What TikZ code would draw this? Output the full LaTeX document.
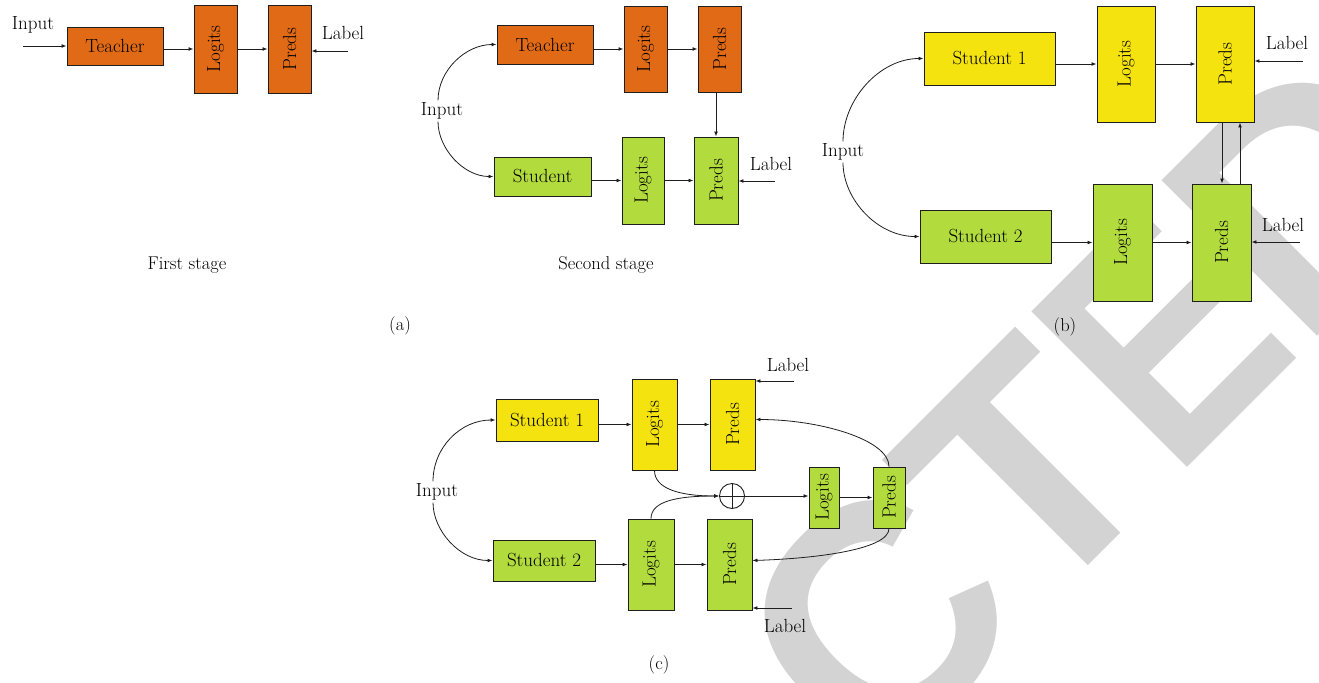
\documentclass[tikz,border=0pt]{standalone}
\usepackage{fontspec}
\usepackage{graphicx}
\newfontfamily\wmfont{Liberation Sans}
\usetikzlibrary{arrows.meta}
\definecolor{boxorange}{RGB}{224,106,22}
\definecolor{boxyellow}{RGB}{244,227,15}
\definecolor{boxgreen}{RGB}{178,219,62}
\definecolor{wmgrey}{RGB}{211,211,211}
\definecolor{ink}{RGB}{30,30,30}
\begin{document}
\begin{tikzpicture}[x=1bp, y=-1bp,
  box/.style={draw=ink, line width=0.9bp, inner sep=0pt, text=black,
    font=\fontsize{19bp}{22bp}\selectfont},
  sz/.style 2 args={minimum width=#1bp, minimum height=#2bp},
  orangebox/.style={box, fill=boxorange},
  yellowbox/.style={box, fill=boxyellow},
  greenbox/.style={box, fill=boxgreen},
  txt/.style={inner sep=2bp, font=\fontsize{19bp}{22bp}\selectfont},
  captext/.style={inner sep=0pt, font=\fontsize{18.5bp}{21bp}\selectfont},
  arr/.style={draw=ink, line width=0.8bp, -{Latex[length=5bp,width=3.8bp]}},
  wmtext/.style={rotate=45, inner sep=0pt, text=wmgrey,
    font=\wmfont\bfseries\fontsize{320bp}{320bp}\selectfont}
]
\useasboundingbox (0,0) rectangle (1319,682);
\fill[white] (0,0) rectangle (1319,682);

% background stamp, set letter by letter along a 45 degree baseline
\begin{scope}
  \clip (0,0) rectangle (1319,682);
  \node[wmtext, anchor=base east] (wm1) at (873.67,780.33) {RETRA};
  \node[wmtext, anchor=base west] (wm2) at (873.67,780.33) {C};
  \node[wmtext, anchor=base west] (wm3) at (1035.74,618.26) {T};
  \node[wmtext, anchor=base west] (wm4) at (1173.84,480.16) {\scalebox{0.86}[1]{E}};
  \node[wmtext, anchor=base west] (wm5) at (1302.46,351.54) {D};
\end{scope}

% ---------- (a) first stage ----------
\node[orangebox, sz={96}{38}] (tA) at (115,46) {Teacher};
\node[orangebox, sz={43}{88}] (lA) at (215.5,49) {\rotatebox{90}{Logits}};
\node[orangebox, sz={43}{88}] (pA) at (289.5,49) {\rotatebox{90}{Preds}};
\node[txt] (inA) at (33,25) {Input};
\coordinate (inAs) at (23,46);
\node[txt] (labA) at (343,33) {Label};
\coordinate (labAs) at (348,51);
\draw[arr] (inAs) -- (tA.west);
\draw[arr] (tA.east |- lA.west) -- (lA.west);
\draw[arr] (lA.east) -- (pA.west);
\draw[arr] (labAs) -- (labAs -| pA.east);
\node[captext] (capA1) at (187,265) {First stage};

% ---------- (a) second stage ----------
\node[orangebox, sz={96}{39}] (tB) at (545,44.5) {Teacher};
\node[orangebox, sz={43}{86}] (lB1) at (645.5,49) {\rotatebox{90}{Logits}};
\node[orangebox, sz={43}{86}] (pB1) at (719.5,49) {\rotatebox{90}{Preds}};
\node[greenbox, sz={97}{39}] (sB) at (542.5,176.5) {Student};
\node[greenbox, sz={42}{87}] (lB2) at (643,180.5) {\rotatebox{90}{Logits}};
\node[greenbox, sz={44}{87}] (pB2) at (716,180.5) {\rotatebox{90}{Preds}};
\node[txt] (inB) at (442,111) {Input};
\node[txt] (labB) at (771,164) {Label};
\coordinate (labBs) at (775,181);
\draw[arr] (tB.east |- lB1.west) -- (lB1.west);
\draw[arr] (lB1.east) -- (pB1.west);
\draw[arr] (pB2.north |- pB1.south) -- (pB2.north);
\draw[arr] (sB.east |- lB2.west) -- (lB2.west);
\draw[arr] (lB2.east) -- (pB2.west);
\draw[arr] (labBs) -- (labBs -| pB2.east);
\draw[arr] ([xshift=-4bp]inB.north) .. controls +(0,-30) and +(-31,0) .. (tB.west);
\draw[arr] ([xshift=-4bp]inB.south) .. controls +(0,27) and +(-30,0) .. (sB.west);
\node[captext] (capA2) at (606,265) {Second stage};
\node[captext] (capA) at (400,326) {(a)};

% ---------- (b) ----------
\node[yellowbox, sz={131}{53}] (s1b) at (989.5,58.5) {Student 1};
\node[yellowbox, sz={58}{116}] (lC1) at (1126,64) {\rotatebox{90}{Logits}};
\node[yellowbox, sz={58}{116}] (pC1) at (1225,64) {\rotatebox{90}{Preds}};
\node[greenbox, sz={131}{53}] (s2b) at (985.5,236.5) {Student 2};
\node[greenbox, sz={59}{117}] (lC2) at (1122.5,242.5) {\rotatebox{90}{Logits}};
\node[greenbox, sz={59}{117}] (pC2) at (1221.5,242.5) {\rotatebox{90}{Preds}};
\node[txt] (inC) at (843,152) {Input};
\node[txt] (labC1) at (1287,43) {Label};
\coordinate (labC1s) at (1303,61);
\node[txt] (labC2) at (1283,225) {Label};
\coordinate (labC2s) at (1300,242);
\draw[arr] (s1b.east |- lC1.west) -- (lC1.west);
\draw[arr] (lC1.east) -- (pC1.west);
\draw[arr] (labC1s) -- (labC1s -| pC1.east);
\draw[arr] ([xshift=-3bp]pC1.south) -- ([xshift=-3bp]pC1.south |- pC2.north);
\draw[arr] ([xshift=18.5bp]pC2.north) -- ([xshift=18.5bp]pC2.north |- pC1.south);
\draw[arr] (s2b.east |- lC2.west) -- (lC2.west);
\draw[arr] (lC2.east) -- (pC2.west);
\draw[arr] (labC2s) -- (labC2s -| pC2.east);
\draw[arr] (inC.north) .. controls +(0,-42) and +(-44,0) .. (s1b.west);
\draw[arr] (inC.south) .. controls +(0,37) and +(-42,0) .. (s2b.west);
\node[captext] (capB) at (1065,327) {(b)};

% ---------- (c) ----------
\node[yellowbox, sz={102}{42}] (s1c) at (547,420) {Student 1};
\node[yellowbox, sz={45}{91}] (lD1) at (654.5,424.5) {\rotatebox{90}{Logits}};
\node[yellowbox, sz={45}{91}] (pD1) at (732.5,424.5) {\rotatebox{90}{Preds}};
\node[greenbox, sz={102}{41}] (s2c) at (544,560.5) {Student 2};
\node[greenbox, sz={46}{91}] (lD2) at (651,564.5) {\rotatebox{90}{Logits}};
\node[greenbox, sz={45}{91}] (pD2) at (729.5,564.5) {\rotatebox{90}{Preds}};
\node[greenbox, sz={30}{61}] (lE) at (824,497.5) {\rotatebox{90}{Logits}};
\node[greenbox, sz={32}{61}] (pE) at (889,497.5) {\rotatebox{90}{Preds}};
\node[circle, draw=ink, line width=0.9bp, minimum size=25bp, inner sep=0pt] (op) at (732,496) {};
\draw[draw=ink, line width=0.9bp] (op.north) -- (op.south) (op.west) -- (op.east);
\node[txt] (inD) at (437,492) {Input};
\node[txt] (labD1) at (788,365) {Label};
\coordinate (labD1s) at (794,381);
\node[txt] (labD2) at (785,626) {Label};
\coordinate (labD2s) at (792,608);
\draw[arr] (s1c.east |- lD1.west) -- (lD1.west);
\draw[arr] (lD1.east) -- (pD1.west);
\draw[arr] (labD1s) -- (labD1s -| pD1.east);
\draw[arr] (s2c.east |- lD2.west) -- (lD2.west);
\draw[arr] (lD2.east) -- (pD2.west);
\draw[arr] (labD2s) -- (labD2s -| pD2.east);
\draw[arr] (op.east) -- (op.east -| lE.west);
\draw[arr] (lE.east) -- (pE.west);
\draw[arr] (lD1.south) .. controls +(0,18) and +(-40,0) .. (op.west);
\draw[arr] (lD2.north) .. controls +(0,-18) and +(-40,0) .. (op.west);
\draw[arr] (pE.north) .. controls +(0,-27) and +(64,0) .. ([yshift=5bp]pD1.east);
\draw[arr] (pE.south) .. controls +(0,21) and +(64,-2) .. ([yshift=4bp]pD2.east);
\draw[arr] ([xshift=-4bp]inD.north) .. controls +(0,-34) and +(-35,0) .. (s1c.west);
\draw[arr] ([xshift=-4bp]inD.south) .. controls +(0,28) and +(-33,0) .. (s2c.west);
\node[captext] (capC) at (659,665) {(c)};
\end{tikzpicture}
\end{document}
